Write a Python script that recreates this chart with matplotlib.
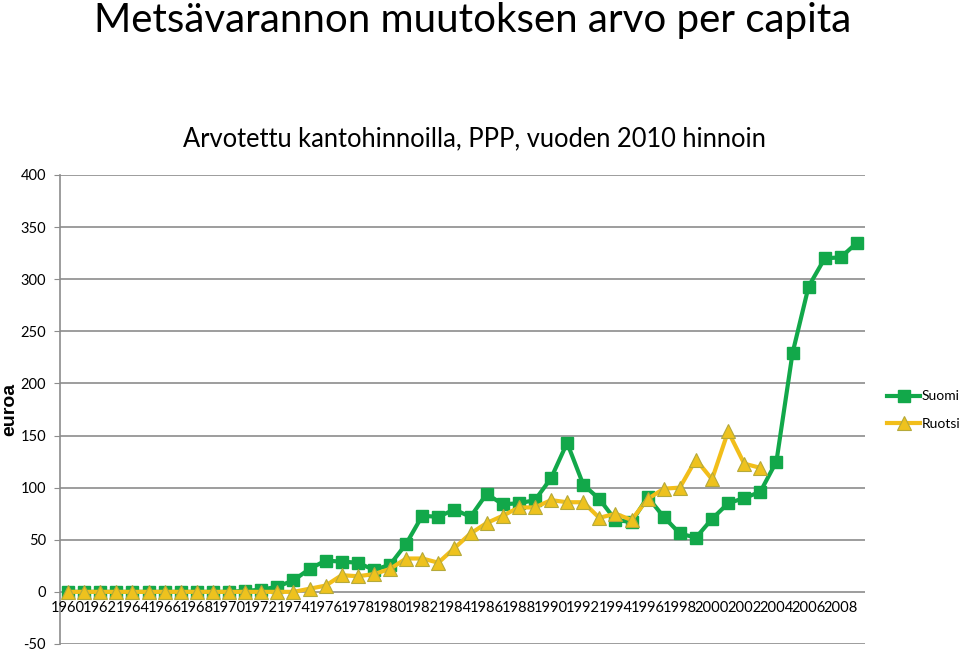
import numpy as np
import matplotlib.pyplot as plt

plt.rcParams['font.family'] = ['Lato', 'DejaVu Sans']
plt.rcParams['axes.unicode_minus'] = False

years = list(range(1960, 2010))

suomi = [0, 0, 0, 0, 0, 0, 0, 0, 0, 0,
         0, 1, 2, 5, 11, 22, 30, 29, 28, 21,
         26, 46, 73, 72, 79, 72, 94, 84, 85, 88,
         109, 143, 103, 89, 69, 67, 91, 72, 56, 52,
         70, 85, 90, 96, 125, 229, 293, 320, 321, 335]

ruotsi = [0, 0, 0, 0, 0, 0, 0, 0, 0, 0,
          0, 0, 0, 0, 0, 3, 6, 16, 15, 17,
          22, 32, 32, 28, 42, 56, 66, 73, 81, 81,
          88, 86, 86, 71, 75, 69, 89, 99, 100, 127,
          108, 154, 123, 119]

tick_years = [str(y) for y in range(1960, 2010, 2)]

fig = plt.figure(figsize=(9.6, 6.51), dpi=100)
ax = fig.add_axes([0.0625, 0.0108, 0.8385, 0.7204])

x = np.arange(len(years))
ax.plot(x, suomi, color='#12A84A', lw=3, marker='s', ms=8.5,
        mfc='#12A84A', mec='#12A84A', label='Suomi', zorder=3)
xr = np.arange(len(ruotsi))
ax.plot(xr, ruotsi, color='#F2BE1A', lw=3, marker='^', ms=10,
        mfc='#EEC21E', mec='#B5A93A', mew=0.8, label='Ruotsi', zorder=4)

ax.set_xlim(-0.5, len(years) - 0.5)
ax.set_ylim(-50, 400)
ax.set_yticks(range(-50, 401, 50))
ax.yaxis.grid(True, color='#8C8C8C', lw=1.2)
ax.set_axisbelow(True)
for s in ['top', 'right', 'bottom']:
    ax.spines[s].set_visible(False)
ax.spines['left'].set_color('#8C8C8C')
ax.spines['left'].set_linewidth(1.2)
ax.tick_params(axis='y', length=4, color='#8C8C8C', labelsize=10.5, pad=6)
ax.set_xticks([])

# year labels sit just under the zero line, one on every other point
for i, lab in enumerate(tick_years):
    ax.text(2 * i, -8.5, lab, ha='center', va='top', fontsize=10.6)

ax.set_ylabel('euroa', family='Liberation Sans', fontweight='bold', fontsize=14)
ax.yaxis.set_label_coords(-0.052, 0.5)

fig.text(0.492, 0.968, 'Metsävarannon muutoksen arvo per capita', ha='center', va='center', fontsize=29)
fig.text(0.494, 0.787, 'Arvotettu kantohinnoilla, PPP, vuoden 2010 hinnoin', ha='center', va='center', fontsize=18.4)

fig.legend(loc='center left', bbox_to_anchor=(0.918, 0.37), frameon=False, fontsize=10,
           handlelength=2.4, handletextpad=0.1, labelspacing=1.1, borderaxespad=0)

fig.savefig('out.png', dpi=100)
